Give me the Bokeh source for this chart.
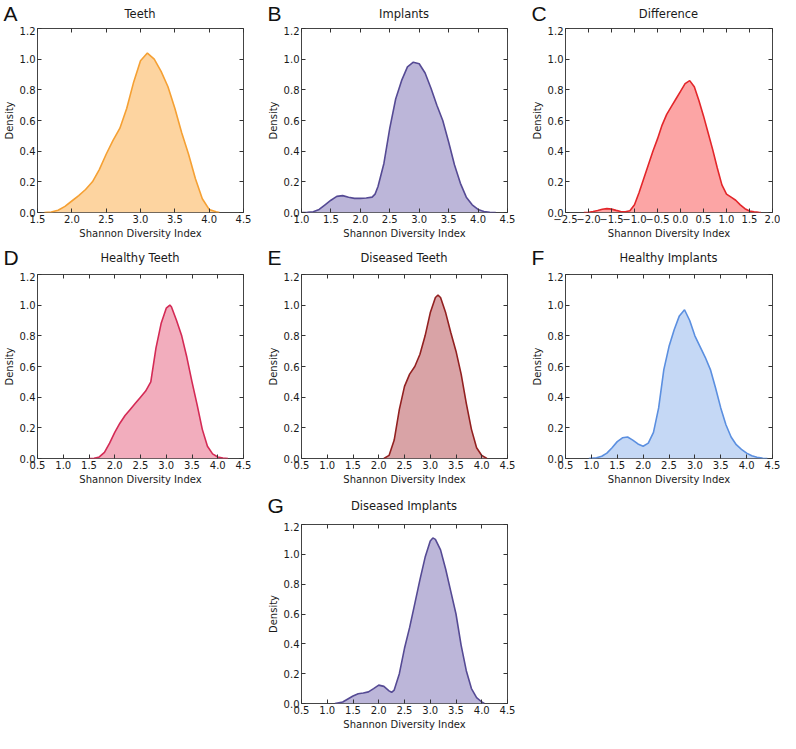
from bokeh.plotting import figure
from bokeh.layouts import column, row
from bokeh.models import FixedTicker, LinearAxis, Label, Spacer, Range1d
from bokeh.embed import file_html
from bokeh.resources import INLINE

# ---------------- data ----------------
teeth_x = [1.6, 1.7, 1.8, 1.9, 2.0, 2.1, 2.2, 2.3, 2.4, 2.5, 2.6, 2.7, 2.8, 2.9, 3.0, 3.1, 3.2, 3.3, 3.4, 3.5, 3.6, 3.7, 3.8, 3.9, 4.0, 4.1, 4.15]
teeth_y = [0.0, 0.003, 0.015, 0.04, 0.075, 0.11, 0.15, 0.2, 0.28, 0.38, 0.47, 0.55, 0.68, 0.85, 0.99, 1.04, 1.0, 0.92, 0.82, 0.68, 0.52, 0.38, 0.22, 0.09, 0.02, 0.005, 0.0]

implants_x = [1.0, 1.1, 1.2, 1.3, 1.4, 1.5, 1.6, 1.7, 1.8, 1.9, 2.0, 2.1, 2.2, 2.25, 2.3, 2.4, 2.5, 2.6, 2.7, 2.8, 2.9, 3.0, 3.1, 3.2, 3.3, 3.4, 3.5, 3.6, 3.7, 3.8, 3.9, 4.0, 4.1, 4.2, 4.3]
implants_y = [0.0, 0.001, 0.005, 0.02, 0.05, 0.08, 0.105, 0.11, 0.1, 0.092, 0.092, 0.095, 0.1, 0.12, 0.17, 0.32, 0.55, 0.74, 0.86, 0.95, 0.98, 0.97, 0.91, 0.81, 0.7, 0.6, 0.46, 0.31, 0.19, 0.1, 0.05, 0.02, 0.007, 0.002, 0.0]

diff_x = [-2.1, -2.0, -1.9, -1.8, -1.7, -1.6, -1.5, -1.4, -1.3, -1.2, -1.1, -1.0, -0.9, -0.8, -0.7, -0.6, -0.5, -0.4, -0.3, -0.2, -0.1, 0.0, 0.1, 0.2, 0.3, 0.4, 0.5, 0.6, 0.7, 0.8, 0.9, 1.0, 1.1, 1.2, 1.3, 1.4, 1.5, 1.6, 1.7, 1.75]
diff_y = [0.0, 0.002, 0.006, 0.013, 0.021, 0.025, 0.022, 0.014, 0.007, 0.005, 0.012, 0.05, 0.13, 0.22, 0.31, 0.4, 0.48, 0.57, 0.64, 0.69, 0.74, 0.79, 0.84, 0.86, 0.82, 0.73, 0.63, 0.52, 0.41, 0.29, 0.18, 0.12, 0.1, 0.08, 0.05, 0.025, 0.01, 0.004, 0.001, 0.0]

htooth_x = [1.5, 1.6, 1.7, 1.8, 1.9, 2.0, 2.1, 2.2, 2.3, 2.4, 2.5, 2.6, 2.7, 2.8, 2.9, 3.0, 3.07, 3.1, 3.2, 3.3, 3.4, 3.5, 3.6, 3.7, 3.8, 3.9, 4.0, 4.1, 4.2]
htooth_y = [0.0, 0.002, 0.01, 0.04, 0.1, 0.17, 0.23, 0.28, 0.32, 0.36, 0.4, 0.44, 0.5, 0.72, 0.88, 0.98, 1.0, 0.99, 0.9, 0.8, 0.66, 0.5, 0.35, 0.19, 0.08, 0.03, 0.01, 0.003, 0.0]

dtooth_x = [2.1, 2.2, 2.3, 2.4, 2.5, 2.6, 2.7, 2.8, 2.9, 3.0, 3.1, 3.15, 3.2, 3.3, 3.4, 3.5, 3.6, 3.7, 3.8, 3.9, 4.0, 4.1]
dtooth_y = [0.0, 0.02, 0.12, 0.32, 0.47, 0.55, 0.6, 0.68, 0.8, 0.95, 1.05, 1.065, 1.05, 0.95, 0.82, 0.7, 0.55, 0.36, 0.19, 0.07, 0.02, 0.0]

himpl_x = [0.95, 1.1, 1.2, 1.3, 1.4, 1.5, 1.6, 1.7, 1.8, 1.9, 2.0, 2.1, 2.2, 2.3, 2.4, 2.5, 2.6, 2.7, 2.8, 2.9, 3.0, 3.1, 3.2, 3.3, 3.4, 3.5, 3.6, 3.7, 3.8, 3.9, 4.0, 4.1, 4.2, 4.3, 4.4]
himpl_y = [0.0, 0.005, 0.015, 0.035, 0.07, 0.11, 0.135, 0.14, 0.12, 0.095, 0.08, 0.1, 0.17, 0.33, 0.58, 0.73, 0.84, 0.93, 0.97, 0.9, 0.8, 0.73, 0.66, 0.58, 0.46, 0.33, 0.22, 0.14, 0.09, 0.06, 0.035, 0.018, 0.008, 0.003, 0.0]

dimpl_x = [1.15, 1.3, 1.4, 1.5, 1.6, 1.7, 1.8, 1.9, 2.0, 2.1, 2.2, 2.25, 2.3, 2.4, 2.5, 2.6, 2.7, 2.8, 2.9, 3.0, 3.05, 3.1, 3.2, 3.3, 3.4, 3.5, 3.6, 3.7, 3.8, 3.9, 4.0, 4.05]
dimpl_y = [0.0, 0.01, 0.03, 0.05, 0.065, 0.07, 0.078, 0.1, 0.123, 0.115, 0.085, 0.075, 0.09, 0.2, 0.37, 0.51, 0.67, 0.83, 0.98, 1.09, 1.11, 1.1, 1.03, 0.9, 0.75, 0.6, 0.39, 0.22, 0.1, 0.04, 0.01, 0.0]

x_ticks_a = [1.5, 2.0, 2.5, 3.0, 3.5, 4.0, 4.5]
x_ticks_b = [1.0, 1.5, 2.0, 2.5, 3.0, 3.5, 4.0, 4.5]
x_ticks_c = [-2.5, -2.0, -1.5, -1.0, -0.5, 0.0, 0.5, 1.0, 1.5, 2.0]
x_ticks_dg = [0.5, 1.0, 1.5, 2.0, 2.5, 3.0, 3.5, 4.0, 4.5]
y_ticks = [0.0, 0.2, 0.4, 0.6, 0.8, 1.0, 1.2]

FONT = "DejaVu Sans"
TXT = "#1a1a1a"
BL = 36


def fmt(v):
    return ("%.1f" % v).replace("-", "\u2212")


def header(letter, title, width, height, br):
    h = figure(width=width, height=height, output_backend="svg", title=None,
               toolbar_location=None, x_axis_type=None, y_axis_type=None,
               x_range=Range1d(0, 1), y_range=Range1d(0, 1),
               min_border=0, min_border_left=0, min_border_right=0,
               min_border_top=0, min_border_bottom=0, frame_align=False)
    h.outline_line_color = None
    h.xgrid.visible = False
    h.ygrid.visible = False
    mid = height / 2.0
    h.add_layout(Label(x=BL - 33, y=mid, x_units="screen", y_units="screen",
                       text=letter, text_font="Liberation Sans",
                       text_font_size="21px", text_color="#111111",
                       text_baseline="middle", text_align="left"))
    frame_w = width - BL - br
    h.add_layout(Label(x=BL + frame_w / 2, y=mid, x_units="screen", y_units="screen",
                       text=title, text_font=FONT, text_font_size="11.5px",
                       text_color=TXT, text_baseline="middle",
                       text_align="center"))
    return h


def panel(xs, ys, xticks, line_color, fill_color, width, height, br, bt, bb):
    p = figure(width=width, height=height, output_backend="svg", title=None,
               toolbar_location=None, frame_align=False,
               x_range=Range1d(xticks[0], xticks[-1]), y_range=Range1d(0, 1.2),
               min_border_left=BL, min_border_right=br,
               min_border_top=bt, min_border_bottom=bb)
    p.xgrid.visible = False
    p.ygrid.visible = False
    p.outline_line_color = "#444444"
    p.outline_line_width = 1

    xa = p.xaxis[0]
    ya = p.yaxis[0]
    xa.ticker = FixedTicker(ticks=xticks)
    ya.ticker = FixedTicker(ticks=y_ticks)
    xa.major_label_overrides = {t: fmt(t) for t in xticks}
    ya.major_label_overrides = {t: fmt(t) for t in y_ticks}
    xa.axis_label = "Shannon Diversity Index"
    ya.axis_label = "Density"
    for ax in (xa, ya):
        ax.axis_line_color = None
        ax.major_tick_in = 4
        ax.major_tick_out = 0
        ax.major_tick_line_color = "#333333"
        ax.minor_tick_line_color = None
        ax.major_label_text_font = FONT
        ax.major_label_text_font_size = "10px"
        ax.major_label_text_color = TXT
        ax.major_label_standoff = 2
        ax.axis_label_text_font = FONT
        ax.axis_label_text_font_size = "10px"
        ax.axis_label_text_font_style = "normal"
        ax.axis_label_text_color = TXT
        ax.axis_label_standoff = 2
    # inward ticks on the top and right edges of the frame
    for loc, tk in (("above", xticks), ("right", y_ticks)):
        ax2 = LinearAxis(ticker=FixedTicker(ticks=tk), axis_line_color=None,
                         major_tick_in=4, major_tick_out=0,
                         major_tick_line_color="#333333",
                         minor_tick_line_color=None,
                         major_label_overrides={t: "" for t in tk},
                         major_label_text_font_size="1px",
                         major_label_standoff=0)
        p.add_layout(ax2, loc)

    p.varea(x=xs, y1=0, y2=ys, fill_color=fill_color, fill_alpha=1.0)
    p.line(xs, ys, line_color=line_color, line_width=1.6)
    return p


W1, W2, W3 = 264, 264, 252
R12, R3 = 21, 8
FRAME_H = 184


def block(letter, title, xs, ys, xticks, lc, fc, width, br, head_h, bb):
    return column(header(letter, title, width, head_h, br),
                  panel(xs, ys, xticks, lc, fc, width, 2 + FRAME_H + bb, br, 2, bb),
                  spacing=0)


row1 = row(
    block("A", "Teeth", teeth_x, teeth_y, x_ticks_a, "#f5a033", "#fdd4a0", W1, R12, 26, 30),
    block("B", "Implants", implants_x, implants_y, x_ticks_b, "#554a94", "#bcb6d9", W2, R12, 26, 30),
    block("C", "Difference", diff_x, diff_y, x_ticks_c, "#e3262a", "#fca5a5", W3, R3, 26, 30),
    spacing=0)
row2 = row(
    block("D", "Healthy Teeth", htooth_x, htooth_y, x_ticks_dg, "#d42a55", "#f2adbd", W1, R12, 30, 30),
    block("E", "Diseased Teeth", dtooth_x, dtooth_y, x_ticks_dg, "#922020", "#d9a3a6", W2, R12, 30, 30),
    block("F", "Healthy Implants", himpl_x, himpl_y, x_ticks_dg, "#5b8fe0", "#c5d8f5", W3, R3, 30, 30),
    spacing=0)
row3 = row(
    Spacer(width=W1, height=34 + 2 + FRAME_H + 24),
    block("G", "Diseased Implants", dimpl_x, dimpl_y, x_ticks_dg, "#554a94", "#bcb6d9", W2, R12, 34, 24),
    spacing=0)

layout = column(row1, row2, row3, spacing=0)

open("out.html", "w").write(file_html(layout, INLINE))
